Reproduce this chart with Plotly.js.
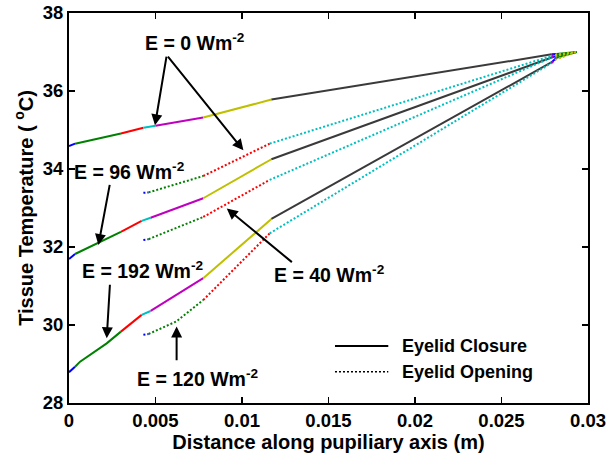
<!DOCTYPE html>
<html><head><meta charset="utf-8">
<script src="https://cdn.plot.ly/plotly-3.0.1.min.js"></script>
<style>html,body{margin:0;padding:0;background:#fff}#chart{width:608px;height:459px}</style>
</head><body><div id="chart"></div>
<script>
// MATLAB-like colour cycle used for the segments
const COLORS = {b:'#0000ff', g:'#008000', r:'#ff0000', c:'#00bfbf', m:'#bf00bf', y:'#bfbf00', k:'#3a3a3a'};

// Eyelid closure (solid) curves
const closure0X = [0, 0.00035, 0.0030, 0.0043, 0.0050, 0.00776, 0.0117, 0.0279, 0.02818, 0.02934];
const closure0Y = [34.59, 34.65, 34.91, 35.06, 35.11, 35.32, 35.78, 36.94, 36.95, 37.0];
const closure0C = ['b','g','r','c','m','y','k','b','g'];

const closure96X = [0, 0.00035, 0.0011, 0.0030, 0.0042, 0.00472, 0.00776, 0.0117, 0.0279, 0.02818, 0.02934];
const closure96Y = [31.69, 31.82, 31.98, 32.39, 32.67, 32.75, 33.25, 34.25, 36.86, 36.9, 37.0];
const closure96C = ['b','g','g','r','c','m','y','k','b','g'];

const closure192X = [0, 0.00035, 0.00064, 0.00218, 0.0030, 0.0042, 0.00472, 0.00776, 0.0117, 0.0279, 0.02818, 0.02934];
const closure192Y = [28.79, 28.93, 29.06, 29.53, 29.83, 30.26, 30.36, 31.2, 32.72, 36.74, 36.85, 37.0];
const closure192C = ['b','g','g','g','r','c','m','y','k','b','g'];

// Eyelid opening (dotted) curves
const opening0X = [0.0043, 0.0046, 0.00776, 0.0116, 0.0279, 0.0281, 0.0293];
const opening0Y = [33.39, 33.40, 33.82, 34.65, 36.90, 36.93, 37.0];
const opening0C = ['b','g','r','c','m','y'];

const opening40X = [0.0043, 0.0046, 0.00776, 0.0116, 0.0279, 0.0281, 0.0293];
const opening40Y = [32.18, 32.20, 32.77, 33.72, 36.86, 36.9, 37.0];
const opening40C = ['b','g','r','c','m','y'];

const opening120X = [0.0043, 0.0046, 0.0062, 0.00776, 0.0116, 0.0279, 0.0281, 0.0293];
const opening120Y = [29.75, 29.77, 30.09, 30.64, 32.35, 36.72, 36.8, 37.0];
const opening120C = ['b','g','g','r','c','m','y'];

// Axis ticks
const xTickVals = [0, 0.005, 0.01, 0.015, 0.02, 0.025, 0.03];
const xTickText = ['0', '0.005', '0.01', '0.015', '0.02', '0.025', '0.03'];
const yTickVals = [28, 30, 32, 34, 36, 38];
const yTickText = ['28', '30', '32', '34', '36', '38'];

// Annotation labels
const labelText = ['E = 0 Wm<sup>-2</sup>', 'E = 96 Wm<sup>-2</sup>', 'E = 192 Wm<sup>-2</sup>', 'E = 120 Wm<sup>-2</sup>', 'E = 40 Wm<sup>-2</sup>'];
const labelX = [0.00429, 0.00015, 0.00064, 0.00382, 0.01172];
const labelY = [37.25, 33.95, 31.41, 28.65, 31.30];

// Arrows (tail -> head)
const arrowTailX = [0.00565, 0.00565, 0.00237, 0.00237, 0.00622, 0.01297];
const arrowTailY = [36.92, 36.92, 33.63, 31.07, 29.06, 31.58];
const arrowHeadX = [0.00497, 0.01008, 0.0017, 0.00218, 0.00622, 0.00912];
const arrowHeadY = [35.12, 34.48, 32.05, 29.66, 29.96, 32.99];

const legendNames = ['Eyelid Closure', 'Eyelid Opening'];

const FONT = 'Liberation Sans, Arial, Helvetica, sans-serif';

const curves = [
  {x: closure0X, y: closure0Y, c: closure0C, dash: 'solid'},
  {x: closure96X, y: closure96Y, c: closure96C, dash: 'solid'},
  {x: closure192X, y: closure192Y, c: closure192C, dash: 'solid'},
  {x: opening0X, y: opening0Y, c: opening0C, dash: '2px,2px'},
  {x: opening40X, y: opening40Y, c: opening40C, dash: '2px,2px'},
  {x: opening120X, y: opening120Y, c: opening120C, dash: '2px,2px'}
];

const traces = [];
curves.forEach(cv => {
  let i = 0;
  while (i < cv.c.length) {
    let j = i;
    while (j + 1 < cv.c.length && cv.c[j + 1] === cv.c[i]) j++;
    traces.push({
      x: cv.x.slice(i, j + 2), y: cv.y.slice(i, j + 2),
      type: 'scatter', mode: 'lines', showlegend: false, hoverinfo: 'skip',
      line: {color: COLORS[cv.c[i]], width: 2, dash: cv.dash}
    });
    i = j + 1;
  }
});

const annotations = [];
labelText.forEach((t, i) => {
  annotations.push({x: labelX[i], y: labelY[i], xref: 'x', yref: 'y', text: t, showarrow: false,
    xanchor: 'left', yanchor: 'middle', font: {family: FONT, size: 19.5, weight: 'bold', color: '#000'}});
});
arrowTailX.forEach((tx, i) => {
  annotations.push({x: arrowHeadX[i], y: arrowHeadY[i], ax: tx, ay: arrowTailY[i], xref: 'x', yref: 'y',
    axref: 'x', ayref: 'y', text: '', showarrow: true, arrowhead: 2, arrowsize: 1.1, arrowwidth: 2, arrowcolor: '#000', standoff: 0});
});
// legend labels
const legY = [0.146, 0.080];
legendNames.forEach((n, i) => {
  annotations.push({x: 0.6378, y: legY[i], xref: 'paper', yref: 'paper', text: n, showarrow: false,
    xanchor: 'left', yanchor: 'middle', font: {family: FONT, size: 18, weight: 'bold', color: '#000'}});
});
const shapes = [
  {type: 'line', xref: 'paper', yref: 'paper', x0: 0.5125, x1: 0.6152, y0: legY[0], y1: legY[0], line: {color: '#000', width: 2}},
  {type: 'line', xref: 'paper', yref: 'paper', x0: 0.5125, x1: 0.6152, y0: legY[1], y1: legY[1], line: {color: '#000', width: 1.5, dash: '2px,2px'}}
];

const axisCommon = {
  showline: true, linewidth: 2, linecolor: '#000', mirror: 'ticks', ticks: 'inside', ticklen: 6, tickwidth: 1.5, tickcolor: '#000',
  showgrid: false, zeroline: false, tickmode: 'array',
  tickfont: {family: FONT, size: 18.5, weight: 'bold', color: '#000'}
};

const layout = {
  width: 608, height: 459,
  margin: {l: 69, r: 20, t: 13, b: 56},
  paper_bgcolor: '#fff', plot_bgcolor: '#fff',
  showlegend: false,
  xaxis: Object.assign({}, axisCommon, {range: [0, 0.03], tickvals: xTickVals, ticktext: xTickText,
    title: {text: 'Distance along pupiliary axis (m)', font: {family: FONT, size: 20, weight: 'bold', color: '#000'}, standoff: 2}}),
  yaxis: Object.assign({}, axisCommon, {range: [28, 38], tickvals: yTickVals, ticktext: yTickText,
    title: {text: 'Tissue Temperature ( <sup>o</sup>C)', font: {family: FONT, size: 20, weight: 'bold', color: '#000'}, standoff: 4}}),
  annotations: annotations, shapes: shapes
};

Plotly.newPlot('chart', traces, layout, {displayModeBar: false, staticPlot: true});
</script></body></html>
